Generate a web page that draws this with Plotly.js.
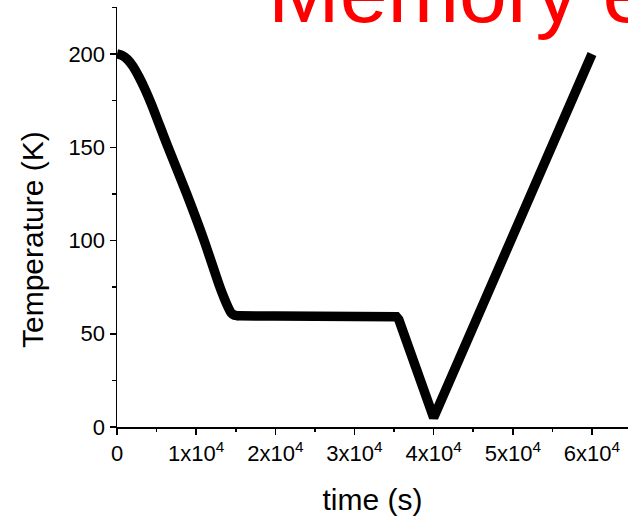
<!DOCTYPE html>
<html>
<head>
<meta charset="utf-8">
<script src="https://cdn.plot.ly/plotly-3.0.1.min.js"></script>
<style>html,body{margin:0;padding:0;background:#fff;}#chart{width:628px;height:517px;}</style>
</head>
<body>
<div id="chart"></div>
<script>
// Data
// first cooling (smooth start and rounded landing on the 60 K plateau)
const coolTime = [0, 600, 1300, 2000, 2800, 3600, 4400, 5400, 6450, 8800, 11000, 13000, 13900, 14400, 14800, 15400];
const coolTemp = [200, 199.3, 197.2, 193.5, 187.5, 180.5, 172.5, 161.5, 150, 125, 100, 75, 65.5, 61.3, 60, 59.6];
// plateau, quench to 5 K and warming back to 200 K
const restTime = [14800, 15400, 20000, 25000, 30000, 35000, 35300, 35600, 40000, 50000, 60000];
const restTemp = [60, 59.6, 59.5, 59.5, 59.5, 59.5, 59.1, 57.6, 5, 102.5, 200];
const xTickVals = [0, 10000, 20000, 30000, 40000, 50000, 60000];
const xTickText = ['0', '1x10<sup>4</sup>', '2x10<sup>4</sup>', '3x10<sup>4</sup>', '4x10<sup>4</sup>', '5x10<sup>4</sup>', '6x10<sup>4</sup>'];
const yTickVals = [0, 50, 100, 150, 200];
const titleText = 'Memory effect';
const xTitle = 'time (s)';
const yTitle = 'Temperature (K)';

const font = 'Liberation Sans, Arial, Helvetica, sans-serif';

const traces = [
  {
    x: coolTime, y: coolTemp, type: 'scatter', mode: 'lines',
    line: {color: '#000', width: 9.5, shape: 'spline', smoothing: 0.6},
    hoverinfo: 'skip', showlegend: false
  },
  {
    x: restTime, y: restTemp, type: 'scatter', mode: 'lines',
    line: {color: '#000', width: 9.5, shape: 'linear'},
    hoverinfo: 'skip', showlegend: false
  }
];

const axisCommon = {
  showgrid: false, zeroline: false, showline: true,
  linecolor: '#000', linewidth: 1.5,
  ticks: 'outside', ticklen: 6, tickwidth: 1.5, tickcolor: '#000',
  tickfont: {family: font, size: 22, color: '#000'},
  minor: {ticks: 'outside', ticklen: 3.5, tickwidth: 1.5, tickcolor: '#000', showgrid: false}
};

const layout = {
  width: 628, height: 517,
  margin: {l: 117, r: 0, t: 7, b: 90, pad: 0},
  paper_bgcolor: '#fff', plot_bgcolor: '#fff',
  title: {
    text: titleText,
    font: {family: font, size: 86, color: '#ff0000'},
    x: 268 / 628, xanchor: 'left', xref: 'container',
    y: 1 - 22 / 517, yanchor: 'bottom', yref: 'container'
  },
  xaxis: Object.assign({}, axisCommon, {
    range: [0, 64550],
    tickmode: 'array', tickvals: xTickVals, ticktext: xTickText,
    minor: Object.assign({}, axisCommon.minor, {dtick: 5000, tick0: 0}),
    title: {text: xTitle, font: {family: font, size: 30, color: '#000'}, standoff: 24}
  }),
  yaxis: Object.assign({}, axisCommon, {
    range: [0, 225.2],
    tickmode: 'array', tickvals: yTickVals,
    minor: Object.assign({}, axisCommon.minor, {dtick: 25, tick0: 0}),
    title: {text: ''}
  }),
  annotations: [{
    text: yTitle, textangle: -90, showarrow: false,
    xref: 'paper', yref: 'paper',
    x: (32 - 117) / 511, xanchor: 'center',
    y: (427 - 240) / 420, yanchor: 'middle',
    font: {family: font, size: 30, color: '#000'}
  }]
};

Plotly.newPlot('chart', traces, layout, {staticPlot: true, displayModeBar: false});
</script>
</body>
</html>
